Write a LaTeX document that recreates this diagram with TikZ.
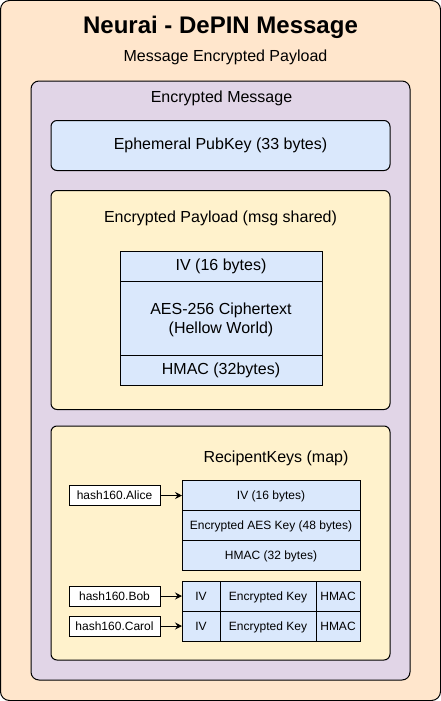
\documentclass[tikz,border=0pt]{standalone}
\usepackage{fontspec}
\setmainfont{Liberation Sans}
\usetikzlibrary{arrows.meta,positioning}
\definecolor{peach}{HTML}{FFE6CC}
\definecolor{lilac}{HTML}{E1D5E7}
\definecolor{cream}{HTML}{FFF2CC}
\definecolor{pale}{HTML}{DAE8FC}

\begin{document}
\begin{tikzpicture}[x=1pt, y=-1pt, line width=1pt,
    panel/.style={draw, anchor=north west, inner sep=0pt, outer sep=0pt},
    cell/.style={draw, fill=pale, anchor=north west, inner sep=0pt, outer sep=0pt},
    mid/.style={text height=1em, text depth=0.2em},
    tag/.style={draw, fill=white, minimum width=91pt, minimum height=20pt, inner sep=0pt, outer sep=0pt, mid, font=\fontsize{12}{14}\selectfont},
    big/.style={font=\fontsize{16}{19}\selectfont},
    small/.style={font=\fontsize{12}{14}\selectfont},
    link/.style={-{Stealth[length=7pt,width=7pt,inset=2.5pt]}}]
    \useasboundingbox (0,0) rectangle (441,701);

    % containers
    \node[panel, fill=peach, rounded corners=9pt, minimum width=440pt, minimum height=700pt] (outer) at (0.5,0.5) {};
    \node[panel, fill=lilac, rounded corners=8pt, minimum width=379pt, minimum height=599pt] (message) at (31,81) {};
    \node[panel, fill=pale, rounded corners=6pt, minimum width=339pt, minimum height=50pt, big, mid] (ephemeral) at (51,120.5) {Ephemeral PubKey (33 bytes)};
    \node[panel, fill=cream, rounded corners=6pt, minimum width=339pt, minimum height=219pt] (payload) at (51,190.5) {};
    \node[panel, fill=cream, rounded corners=6pt, minimum width=339pt, minimum height=234pt] (recipients) at (51,426) {};

    \node[anchor=base, font=\fontsize{24}{28}\selectfont\bfseries] (title) at (220.5,34) {Neurai - DePIN Message};
    \node[anchor=base, big] (subtitle) at (225.5,62) {Message Encrypted Payload};
    \node[anchor=base, big] (msglabel) at (221.5,102) {Encrypted Message};
    \node[anchor=base, big] (paylabel) at (220.5,222) {Encrypted Payload (msg shared)};
    \node[anchor=base, big] (reclabel) at (276,462) {RecipentKeys (map)};

    % shared payload
    \node[cell, minimum width=202pt, minimum height=30pt, big, mid] (payiv) at (120,251) {IV (16 bytes)};
    \node[cell, minimum width=202pt, minimum height=74pt, big, align=center, text depth=-1.5pt] (paycipher) at (120,281) {AES-256 Ciphertext\\(Hellow World)};
    \node[cell, minimum width=202pt, minimum height=30pt, big, mid] (payhmac) at (120,355) {HMAC (32bytes)};

    % recipient keys
    \node[cell, minimum width=178pt, minimum height=30pt, small, mid] (aliceiv) at (182,480.5) {IV (16 bytes)};
    \node[cell, minimum width=178pt, minimum height=30pt, small, mid] (alicekey) at (182,510.5) {Encrypted AES Key (48 bytes)};
    \node[cell, minimum width=178pt, minimum height=30pt, small, mid] (alicehmac) at (182,540.5) {HMAC (32 bytes)};

    \node[cell, minimum width=38pt, minimum height=30pt, small, mid] (bobiv) at (182,581) {IV};
    \node[cell, minimum width=96pt, minimum height=30pt, small, mid] (bobkey) at (220,581) {Encrypted Key};
    \node[cell, minimum width=44pt, minimum height=30pt, small, mid] (bobhmac) at (316,581) {HMAC};
    \node[cell, minimum width=38pt, minimum height=30pt, small, mid] (caroliv) at (182,611) {IV};
    \node[cell, minimum width=96pt, minimum height=30pt, small, mid] (carolkey) at (220,611) {Encrypted Key};
    \node[cell, minimum width=44pt, minimum height=30pt, small, mid] (carolhmac) at (316,611) {HMAC};

    \node[tag] (alice) at (114.5,495.5) {hash160.Alice};
    \node[tag] (bob) at (114.5,596) {hash160.Bob};
    \node[tag] (carol) at (114.5,626) {hash160.Carol};

    \draw[link] (alice) -- (aliceiv);
    \draw[link] (bob) -- (bobiv);
    \draw[link] (carol) -- (caroliv);
\end{tikzpicture}
\end{document}
